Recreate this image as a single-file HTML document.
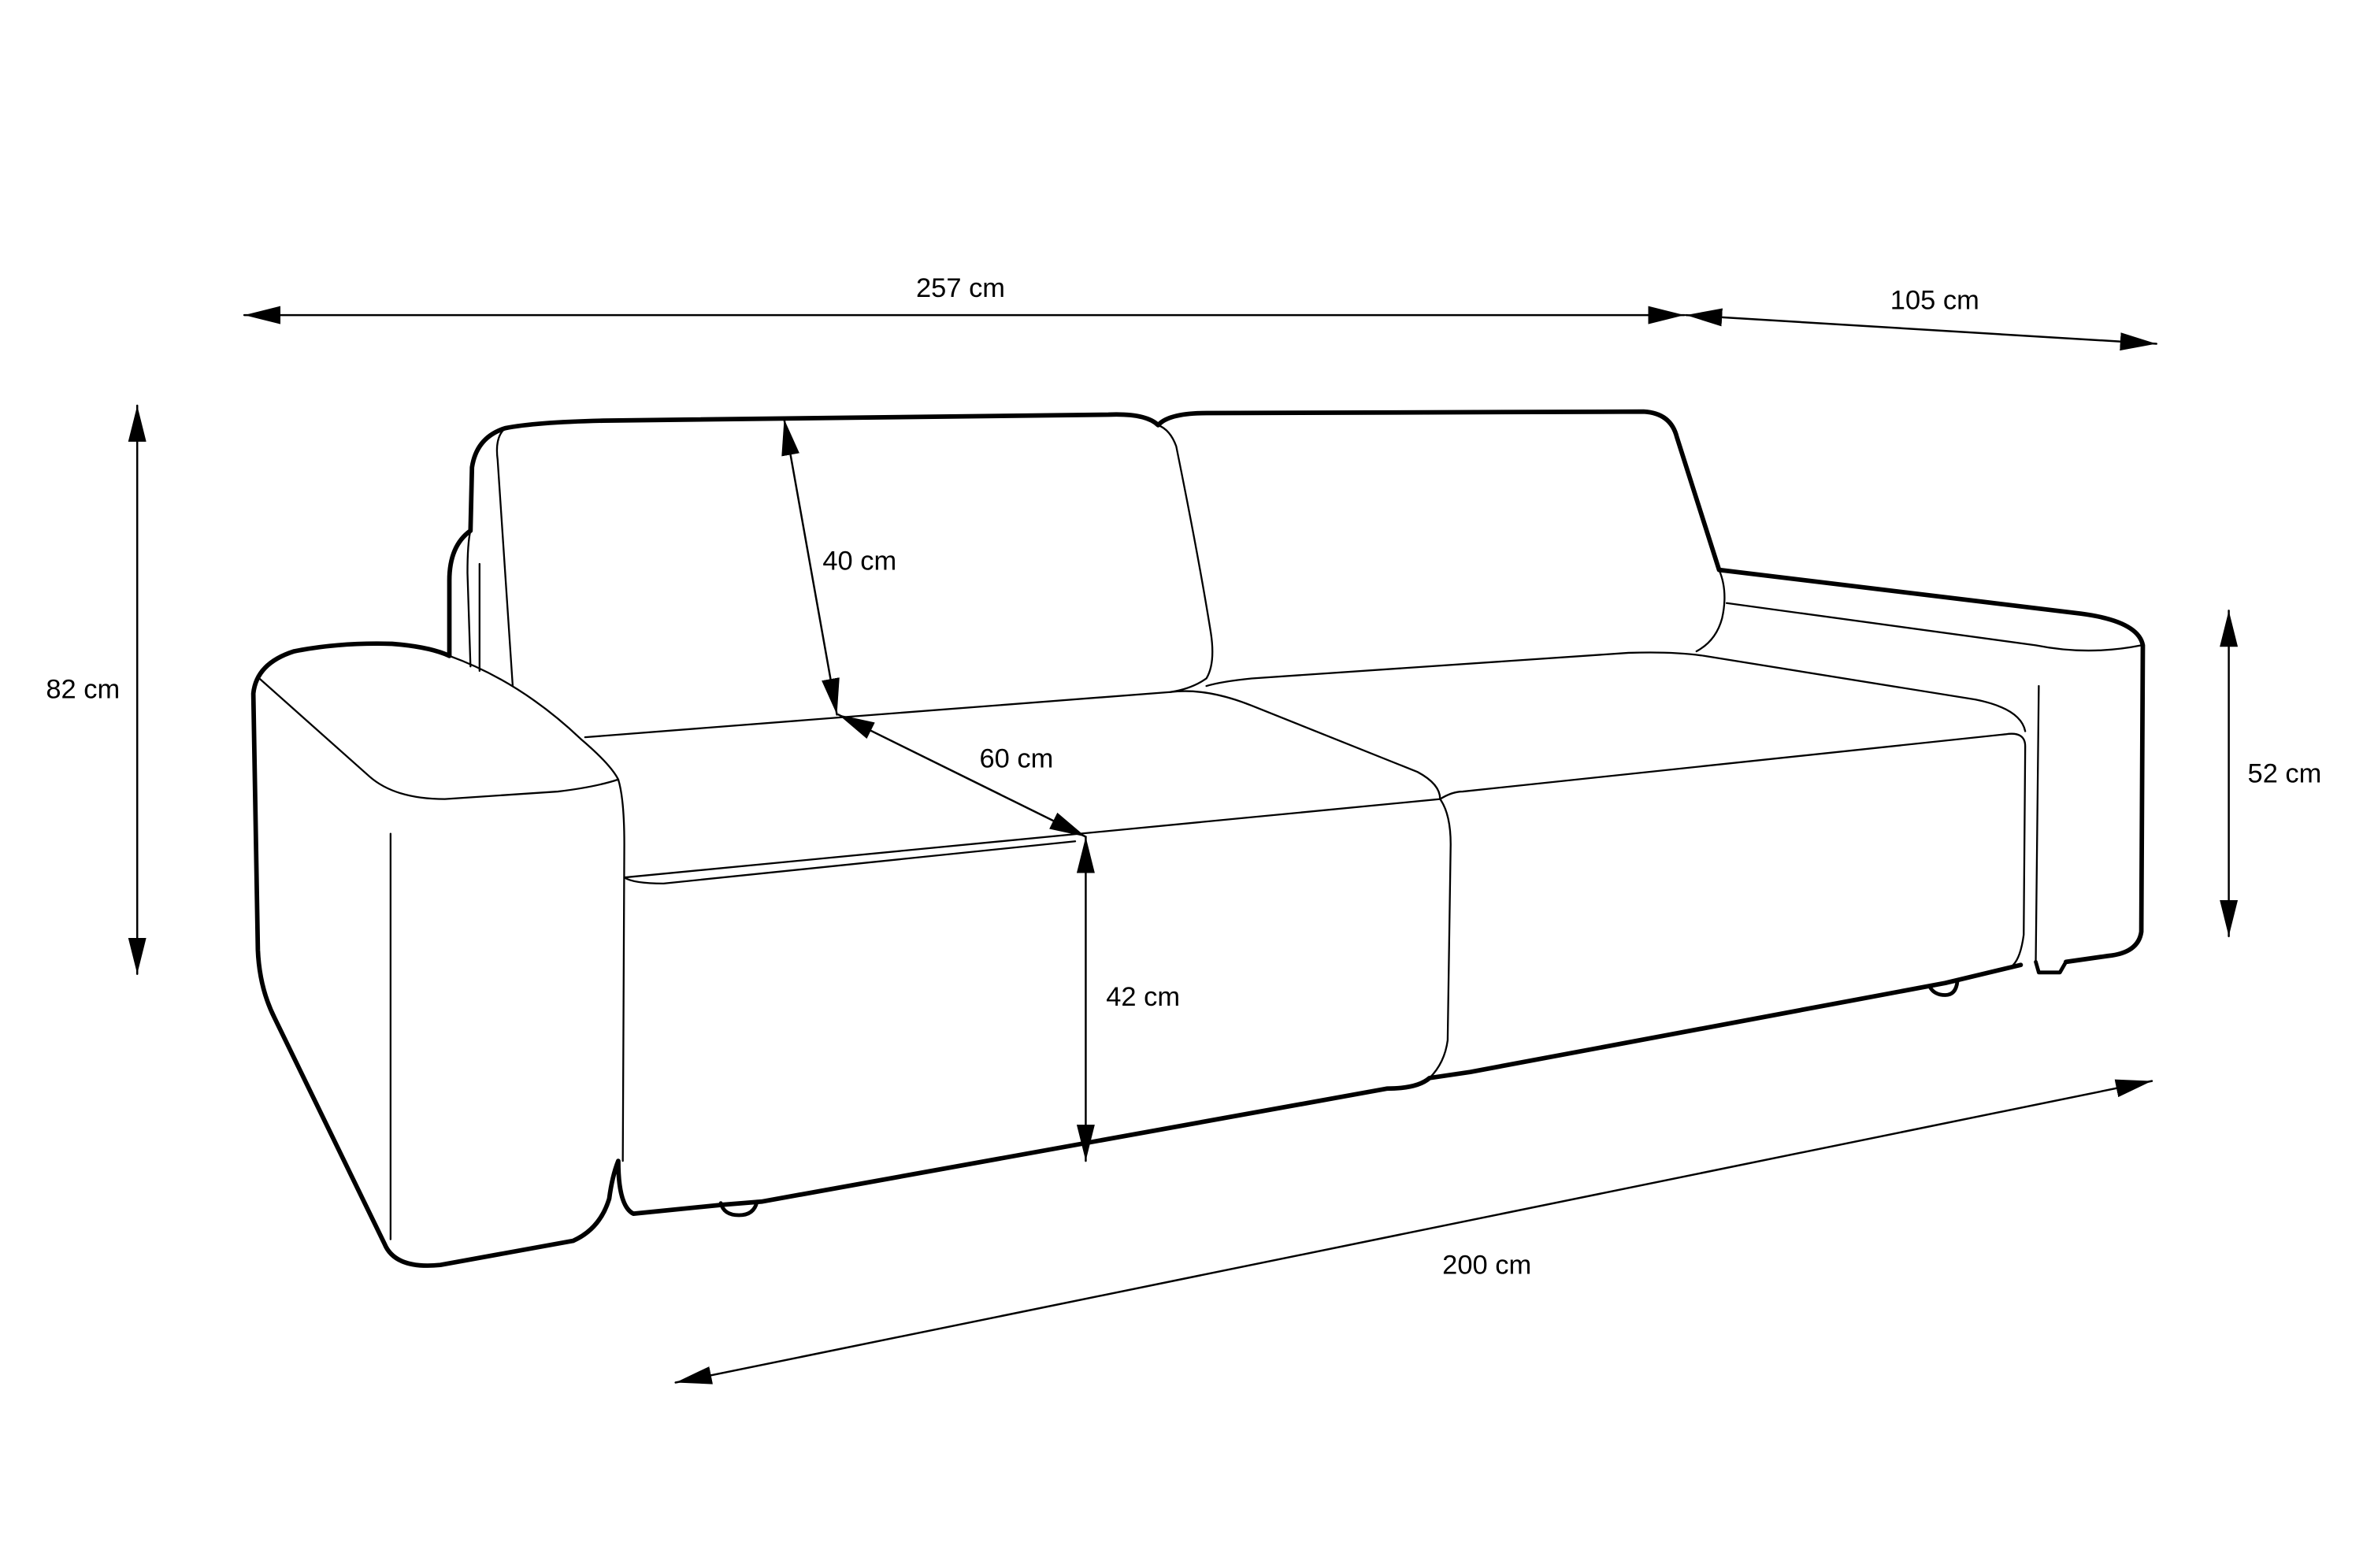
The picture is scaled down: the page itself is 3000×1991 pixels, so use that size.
<!DOCTYPE html>
<html><head><meta charset="utf-8"><style>
html,body{margin:0;padding:0;background:#fff;}
svg{display:block;}
text{font-family:"Liberation Sans",Arial,sans-serif;font-size:18px;fill:#000;}
</style></head><body>
<svg width="3000" height="1991" viewBox="0 0 1567 1040" preserveAspectRatio="none" xmlns="http://www.w3.org/2000/svg">
<defs>
<marker id="b" viewBox="0 0 24 12" refX="24" refY="6" markerWidth="24" markerHeight="12" orient="auto-start-reverse" markerUnits="userSpaceOnUse"><path d="M0,0 L24,6 L0,12 z" fill="#000"/></marker>
</defs>
<g fill="none" stroke="#000" stroke-linecap="round" stroke-linejoin="round">
<path stroke-width="3" d="M298,435 L298,385 Q298,362 312,352 L313,310 Q316,290 335,284 Q355,280 400,279 L735,275 Q760,274 768,282 Q775,274 800,274 L1090,273 Q1108,274 1112,290 L1140,378 L1380,407 Q1418,412 1421,428 L1420,618 Q1418,632 1398,634 L1370,638"/>
<path stroke-width="3" d="M1340,640 L1290,652 L975,711 Q955,714 948,715 Q940,722 920,722 L505,797 L480,799 L420,805 Q410,800 410,770 Q406,780 404,795 Q398,815 380,823 L292,839 Q262,842 255,825 L182,675 Q172,655 171,630 L168,460 Q170,440 195,432 Q225,426 260,427 Q285,429 298,435"/>
<path stroke-width="2.5" d="M478,798 Q480,806 490,806 Q500,806 502,797"/>
<path stroke-width="2.5" d="M1280,655 Q1283,660 1290,660 Q1297,660 1298,651"/>
<path stroke-width="2.5" d="M1350,638 L1352,645 L1366,645 L1370,638"/>
<g stroke-width="1.2">
<path d="M172,450 L245,515 Q262,530 295,530 L370,525 Q395,522 410,517"/>
<path d="M298,435 Q345,452 385,490 Q405,507 410,517 Q414,530 414,560 L413,770"/>
<path d="M259,553 L259,822"/>
<path d="M312,352 Q310,360 310,380 L312,442"/>
<path d="M318,374 L318,445"/>
<path d="M335,284 Q328,290 330,305 L340,455"/>
<path d="M388,489 L555,476 L776,459 Q790,457 800,450 Q806,440 803,420 Q795,370 780,296 Q776,285 768,282"/>
<path d="M776,459 Q800,456 830,468 L940,512 Q955,520 955,530 L414,582"/>
<path d="M414,582 Q420,586 440,586 L713,558"/>
<path d="M955,530 Q962,540 962,560 L960,690 Q958,705 948,715"/>
<path d="M955,530 Q963,525 970,525 L1330,487 Q1343,485 1343,495 L1342,620 Q1340,635 1335,640"/>
<path d="M800,455 Q810,452 830,450 L1080,433 Q1110,432 1130,435 L1310,464 Q1340,470 1343,485"/>
<path d="M1140,378 Q1146,392 1142,410 Q1138,425 1125,432"/>
<path d="M1145,400 L1350,428 Q1385,435 1420,428"/>
<path d="M1352,455 L1350,637"/>
</g>
<g stroke-width="1.3">
<line x1="162" y1="209" x2="1117" y2="209" marker-start="url(#b)" marker-end="url(#b)"/>
<line x1="1118" y1="209" x2="1430" y2="228" marker-start="url(#b)" marker-end="url(#b)"/>
<line x1="91" y1="269" x2="91" y2="646" marker-start="url(#b)" marker-end="url(#b)"/>
<line x1="1478" y1="405" x2="1478" y2="621" marker-start="url(#b)" marker-end="url(#b)"/>
<line x1="448" y1="917" x2="1427" y2="717" marker-start="url(#b)" marker-end="url(#b)"/>
<line x1="520" y1="278" x2="555" y2="474" marker-start="url(#b)" marker-end="url(#b)"/>
<line x1="556" y1="474" x2="720" y2="555" marker-start="url(#b)" marker-end="url(#b)"/>
<line x1="720" y1="555" x2="720" y2="770" marker-start="url(#b)" marker-end="url(#b)"/>
</g>
</g>
<text x="637" y="197" text-anchor="middle">257 cm</text>
<text x="1283" y="205" text-anchor="middle">105 cm</text>
<text x="55" y="463" text-anchor="middle">82 cm</text>
<text x="1515" y="519" text-anchor="middle">52 cm</text>
<text x="986" y="845" text-anchor="middle">200 cm</text>
<text x="570" y="378" text-anchor="middle">40 cm</text>
<text x="674" y="509" text-anchor="middle">60 cm</text>
<text x="758" y="667" text-anchor="middle">42 cm</text>
</svg>
</body></html>
